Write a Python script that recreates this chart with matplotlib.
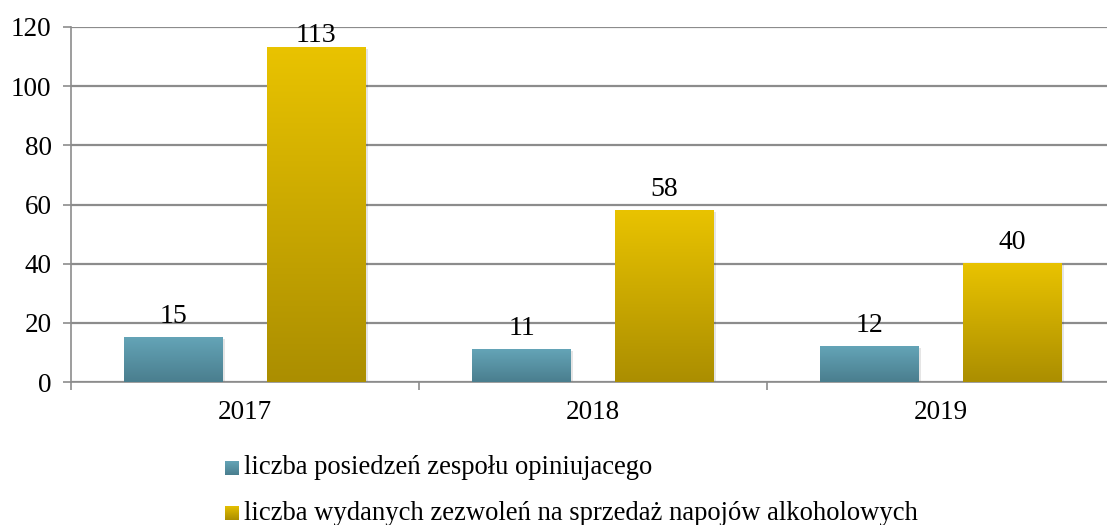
import numpy as np
import matplotlib
matplotlib.use("Agg")
import matplotlib.pyplot as plt
from matplotlib.colors import LinearSegmentedColormap

years = ["2017", "2018", "2019"]
posiedzenia = [15, 11, 12]
zezwolenia = [113, 58, 40]
series_names = ["liczba posiedzeń zespołu opiniujacego",
                "liczba wydanych zezwoleń na sprzedaż napojów alkoholowych"]

plt.rcParams['font.family'] = ['Liberation Serif', 'DejaVu Serif']

blue_cmap = LinearSegmentedColormap.from_list("b", ["#4a7e8e", "#64a4b7"])
gold_cmap = LinearSegmentedColormap.from_list("g", ["#ab8e00", "#e9c300"])
grad = np.linspace(0, 1, 256).reshape(-1, 1)

fig = plt.figure(figsize=(11.07, 5.25), dpi=100)
# category width ~348 px, the last one runs a little past the right edge
ax = fig.add_axes([71 / 1107, 1 - 382 / 525, 1044 / 1107, 355 / 525])

x = np.arange(len(years))
width = 0.284
offs = 0.205
grid_col = "#8c8c8c"


def gradient_bars(xs, vals, cmap):
    bars = ax.bar(xs, vals, width, color="none", zorder=3)
    for b in bars:
        x0, y0 = b.get_x(), b.get_y()
        w, h = b.get_width(), b.get_height()
        # soft shadow
        ax.bar(x0 + w / 2 + 0.006, h, w, bottom=-0.4, color="#000000",
               alpha=0.1, zorder=2, linewidth=0)
        ax.imshow(grad, cmap=cmap, aspect="auto", origin="lower",
                  extent=[x0, x0 + w, y0, y0 + h], zorder=4)
    return bars


b1 = gradient_bars(x - offs, posiedzenia, blue_cmap)
b2 = gradient_bars(x + offs, zezwolenia, gold_cmap)

for bars, vals in [(b1, posiedzenia), (b2, zezwolenia)]:
    for b, v in zip(bars, vals):
        # label sits lower when it would run past the top of the axes
        dy = 0 if v > 110 else 6
        ax.annotate(str(v), (b.get_x() + b.get_width() / 2, v),
                    xytext=(0, dy), textcoords="offset points",
                    ha="center", va="bottom", fontsize=20, zorder=5,
                    annotation_clip=False)

ax.set_xlim(-0.5, 2.5)
ax.set_ylim(0, 120)
ax.set_yticks(range(0, 121, 20))
ax.yaxis.grid(True, color=grid_col, linewidth=1.6, zorder=0)
ax.set_axisbelow(True)

ax.set_xticks(x)
ax.set_xticklabels(years)
ax.set_xticks([-0.5, 0.5, 1.5], minor=True)
ax.tick_params(axis="x", which="major", length=0, labelsize=19.5, pad=13)
ax.tick_params(axis="x", which="minor", length=6, width=1.2, color=grid_col)
ax.tick_params(axis="y", length=6, width=1.2, color=grid_col,
               labelsize=19.5, pad=8)

for s in ["top", "right"]:
    ax.spines[s].set_visible(False)
for s in ["left", "bottom"]:
    ax.spines[s].set_color(grid_col)
    ax.spines[s].set_linewidth(1.2)

# legend drawn by hand
for i, (name, cmap) in enumerate(zip(series_names, [blue_cmap, gold_cmap])):
    yc = 468 + i * 45
    sq = fig.add_axes([225 / 1107, 1 - (yc + 7) / 525, 14 / 1107, 14 / 525])
    sq.imshow(grad, cmap=cmap, aspect="auto", origin="lower")
    sq.axis("off")
    fig.text(244 / 1107, 1 - yc / 525, name, fontsize=19.2,
             va="center", ha="left")

fig.savefig("out.png", dpi=100)
